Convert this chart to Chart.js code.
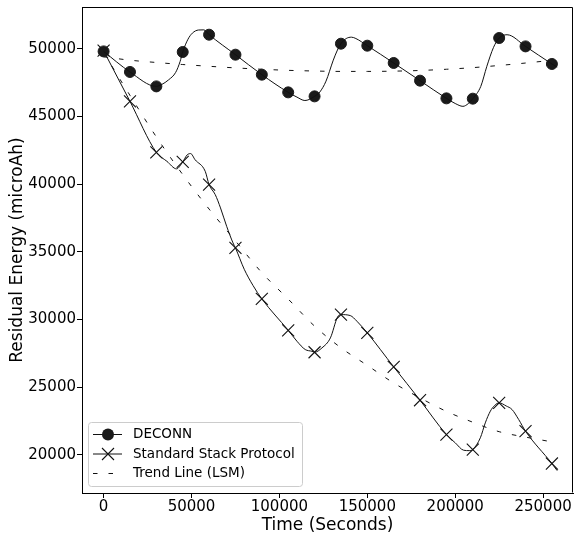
<!DOCTYPE html>
<html>
<head>
<meta charset="utf-8">
<script src="https://cdn.jsdelivr.net/npm/chart.js@4.4.1/dist/chart.umd.min.js"></script>
<style>
  html, body { margin: 0; padding: 0; background: #ffffff; }
  #wrap { width: 576px; height: 538px; }
</style>
</head>
<body>
<div id="wrap"><canvas id="c" width="576" height="538"></canvas></div>
<script>
// ---- data ----
const timeMarks = [0, 15000, 30000, 45000, 60000, 75000, 90000, 105000, 120000, 135000, 150000, 165000, 180000, 195000, 210000, 225000, 240000, 255000];
const deconnMarks = [49800, 48280, 47215, 49756, 51034, 49557, 48080, 46772, 46477, 50369, 50222, 48944, 47637, 46329, 46307, 50790, 50170, 48870];
const sspMarks = [49850, 46108, 42340, 41632, 39955, 35280, 31513, 29193, 27570, 30353, 28998, 26490, 24024, 21490, 20382, 23832, 21735, 19348];
const deconnTrend = [49400, 49150, 48980, 48830, 48700, 48580, 48480, 48400, 48350, 48320, 48320, 48340, 48390, 48480, 48600, 48760, 48940, 49140];
const sspTrend = [49700, 46550, 43480, 40700, 38150, 35800, 33450, 31500, 29500, 27900, 26600, 25300, 24200, 23200, 22400, 21700, 21300, 20950];

// finer readings of the drawn curves (between the markers)
const deconnLineT = [0, 15000, 30000, 33000, 37000, 41000, 43500, 45000, 48000, 50500, 54000, 57000, 60000, 75000, 90000, 105000, 110000, 114500, 117000, 120000, 123000, 126500, 130500, 133000, 135000, 138000, 141000, 143500, 150000, 165000, 180000, 195000, 200000, 204400, 207500, 210000, 214500, 218000, 221800, 225000, 229500, 240000, 255000, 258000];
const deconnLineE = [49800, 48280, 47215, 47350, 47700, 48250, 49050, 49756, 50700, 51150, 51380, 51390, 51034, 49557, 48080, 46772, 46420, 46170, 46250, 46477, 46800, 47600, 49100, 49900, 50369, 50750, 50850, 50750, 50222, 48944, 47637, 46329, 45950, 45740, 45950, 46307, 47200, 48700, 50100, 50790, 51030, 50170, 48870, 48640];
const sspLineT = [0, 15000, 30000, 36000, 41500, 45000, 47500, 49500, 52000, 57800, 60000, 63500, 66500, 70000, 73600, 75000, 80000, 85000, 90000, 105000, 110000, 114700, 118500, 120000, 124200, 129000, 133100, 135000, 140300, 144100, 150000, 165000, 180000, 195000, 200000, 204800, 208000, 210000, 214300, 217100, 220000, 222500, 225000, 229000, 232300, 236100, 240000, 255000, 258000];
const sspLineE = [49850, 46108, 42340, 41680, 41120, 41632, 42150, 42250, 41800, 40940, 39955, 39217, 38232, 36875, 35650, 35280, 33700, 32500, 31513, 29193, 28380, 27770, 27640, 27570, 27890, 28630, 30180, 30353, 30280, 29860, 28998, 26490, 24024, 21490, 20880, 20330, 20300, 20382, 21250, 22350, 23220, 23650, 23832, 23600, 23340, 22600, 21735, 19348, 18820];

const xTicks = [0, 50000, 100000, 150000, 200000, 250000];
const yTicks = [20000, 25000, 30000, 35000, 40000, 45000, 50000];
const legendLabels = ['DECONN', 'Standard Stack Protocol', 'Trend Line (LSM)'];
const xTitle = 'Time (Seconds)';
const yTitle = 'Residual Energy (microAh)';

// ---- chart ----
const FONT = "'DejaVu Sans', 'Liberation Sans', sans-serif";
Chart.defaults.font.family = FONT;
Chart.defaults.color = '#000';

const pts = (xs, ys) => xs.map((x, i) => ({ x: x, y: ys[i] }));

const framePlugin = {
  id: 'frameAndLegend',
  afterDraw(chart) {
    const ctx = chart.ctx;
    const a = chart.chartArea;
    ctx.save();
    // spines
    ctx.strokeStyle = '#000';
    ctx.lineWidth = 1;
    ctx.beginPath();
    ctx.moveTo(Math.round(a.left) + 0.5, Math.round(a.top) + 0.5);
    ctx.lineTo(Math.round(a.right) - 0.5, Math.round(a.top) + 0.5);
    ctx.lineTo(Math.round(a.right) - 0.5, Math.round(a.bottom) - 0.5);
    ctx.stroke();

    // legend box
    const bx = 88.5, by = 422.5, bw = 214, bh = 64, r = 3;
    ctx.beginPath();
    ctx.moveTo(bx + r, by);
    ctx.lineTo(bx + bw - r, by);
    ctx.arcTo(bx + bw, by, bx + bw, by + r, r);
    ctx.lineTo(bx + bw, by + bh - r);
    ctx.arcTo(bx + bw, by + bh, bx + bw - r, by + bh, r);
    ctx.lineTo(bx + r, by + bh);
    ctx.arcTo(bx, by + bh, bx, by + bh - r, r);
    ctx.lineTo(bx, by + r);
    ctx.arcTo(bx, by, bx + r, by, r);
    ctx.closePath();
    ctx.fillStyle = 'rgba(255,255,255,0.8)';
    ctx.fill();
    ctx.strokeStyle = '#cccccc';
    ctx.lineWidth = 1;
    ctx.stroke();

    const rows = [434.5, 454, 473.5];
    const x0 = 93, x1 = 122, xm = 108;
    // DECONN
    ctx.strokeStyle = '#111';
    ctx.lineWidth = 1;
    ctx.beginPath(); ctx.moveTo(x0, rows[0]); ctx.lineTo(x1, rows[0]); ctx.stroke();
    ctx.fillStyle = '#1a1a1a';
    ctx.beginPath(); ctx.arc(xm, rows[0], 6, 0, Math.PI * 2); ctx.fill();
    // SSP
    ctx.beginPath(); ctx.moveTo(x0, rows[1]); ctx.lineTo(x1, rows[1]); ctx.stroke();
    ctx.lineWidth = 1.1;
    ctx.beginPath();
    ctx.moveTo(xm - 6, rows[1] - 6); ctx.lineTo(xm + 6, rows[1] + 6);
    ctx.moveTo(xm - 6, rows[1] + 6); ctx.lineTo(xm + 6, rows[1] - 6);
    ctx.stroke();
    // Trend
    ctx.lineWidth = 1;
    ctx.setLineDash([4.5, 11]);
    ctx.beginPath(); ctx.moveTo(x0, rows[2]); ctx.lineTo(x1, rows[2]); ctx.stroke();
    ctx.setLineDash([]);

    ctx.fillStyle = '#000';
    ctx.font = "13.5px " + FONT;
    ctx.textBaseline = 'middle';
    ctx.textAlign = 'left';
    legendLabels.forEach((t, i) => ctx.fillText(t, 133, rows[i]));
    ctx.restore();
  }
};

new Chart(document.getElementById('c'), {
  type: 'line',
  data: {
    datasets: [
      {
        label: legendLabels[0] + ' line',
        data: pts(deconnLineT, deconnLineE),
        borderColor: '#111', borderWidth: 1,
        pointRadius: 0, cubicInterpolationMode: 'monotone', fill: false
      },
      {
        label: legendLabels[0],
        data: pts(timeMarks, deconnMarks),
        showLine: false,
        pointStyle: 'circle', pointRadius: 5.5, pointBorderWidth: 1,
        pointBackgroundColor: '#1a1a1a', pointBorderColor: '#1a1a1a'
      },
      {
        label: legendLabels[1] + ' line',
        data: pts(sspLineT, sspLineE),
        borderColor: '#111', borderWidth: 1,
        pointRadius: 0, cubicInterpolationMode: 'monotone', fill: false
      },
      {
        label: legendLabels[1],
        data: pts(timeMarks, sspMarks),
        showLine: false,
        pointStyle: 'crossRot', pointRadius: 8.5, pointBorderWidth: 1.1,
        pointBorderColor: '#111', pointBackgroundColor: 'rgba(0,0,0,0)'
      },
      {
        label: legendLabels[2] + ' (DECONN)',
        data: pts(timeMarks, deconnTrend),
        borderColor: '#111', borderWidth: 1, borderDash: [4.5, 11],
        pointRadius: 0, cubicInterpolationMode: 'monotone', fill: false
      },
      {
        label: legendLabels[2] + ' (SSP)',
        data: pts(timeMarks, sspTrend),
        borderColor: '#111', borderWidth: 1, borderDash: [4.5, 11],
        pointRadius: 0, cubicInterpolationMode: 'monotone', fill: false
      }
    ]
  },
  options: {
    responsive: false,
    animation: false,
    events: [],
    layout: { autoPadding: false, padding: { top: 7, right: 3, left: 0, bottom: 0 } },
    plugins: { legend: { display: false }, tooltip: { enabled: false } },
    scales: {
      x: {
        type: 'linear',
        min: -12290, max: 267000,
        afterBuildTicks: s => { s.ticks = xTicks.map(v => ({ value: v })); },
        afterFit: s => { s.height = 45; s.paddingLeft = 0; s.paddingRight = 0; },
        ticks: { callback: v => String(v), font: { size: 15 }, color: '#000', padding: 0, maxRotation: 0, autoSkip: false },
        grid: { drawOnChartArea: false, drawTicks: true, tickLength: 5, color: '#000', lineWidth: 1 },
        border: { display: true, color: '#000', width: 1 },
        title: { display: true, text: xTitle, font: { size: 17 }, color: '#000', padding: { top: 0, bottom: 2 } }
      },
      y: {
        type: 'linear',
        min: 17170, max: 53080,
        afterBuildTicks: s => { s.ticks = yTicks.map(v => ({ value: v })); },
        afterFit: s => { s.width = 82; s.paddingTop = 0; s.paddingBottom = 0; },
        ticks: { callback: v => String(v), font: { size: 15 }, color: '#000', padding: 1, autoSkip: false },
        grid: { drawOnChartArea: false, drawTicks: true, tickLength: 5, color: '#000', lineWidth: 1 },
        border: { display: true, color: '#000', width: 1 },
        title: { display: true, text: yTitle, font: { size: 17 }, color: '#000', padding: { top: 7, bottom: 0 } }
      }
    }
  },
  plugins: [framePlugin]
});
</script>
</body>
</html>
